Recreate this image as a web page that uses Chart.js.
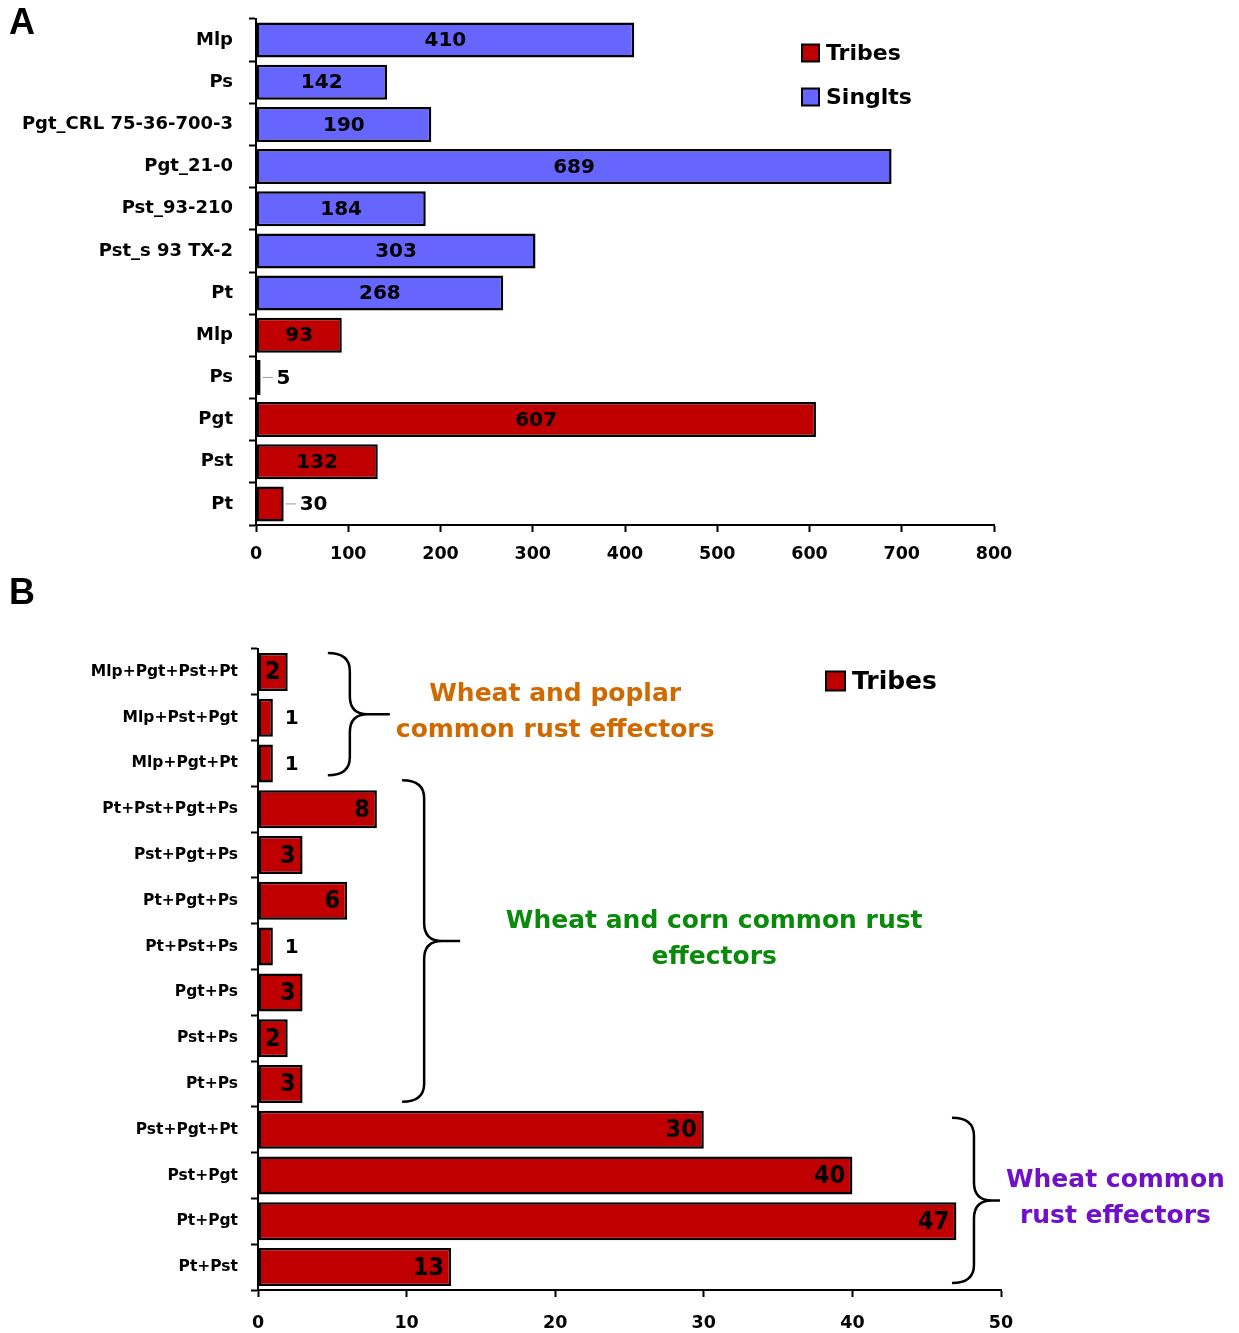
<!DOCTYPE html>
<html>
<head>
<meta charset="utf-8">
<script src="https://cdn.jsdelivr.net/npm/chart.js@4.4.1/dist/chart.umd.min.js"></script>
<style>
body { margin: 0; background: #fff; }
#wrap { position: relative; width: 1239px; height: 1333px; }
canvas { position: absolute; left: 0; }
#chartA { top: 0; }
#chartB { top: 580px; }
.panel { position: absolute; left: 9px; font: bold 36px 'Liberation Sans', Arial, sans-serif; color: #000; }
</style>
</head>
<body>
<div id="wrap">
  <canvas id="chartA" width="1239" height="580"></canvas>
  <canvas id="chartB" width="1239" height="753"></canvas>
  <div class="panel" style="top:1px">A</div>
  <div class="panel" style="top:571px">B</div>
</div>
<script>
// A: singlets / tribes
const labelsA = ['Mlp', 'Ps', 'Pgt_CRL 75-36-700-3', 'Pgt_21-0', 'Pst_93-210', 'Pst_s 93 TX-2', 'Pt',
                 'Mlp', 'Ps', 'Pgt', 'Pst', 'Pt'];
const singletsA = [410, 142, 190, 689, 184, 303, 268, null, null, null, null, null];
const tribesA = [null, null, null, null, null, null, null, 93, 5, 607, 132, 30];
const ticksA = [0, 100, 200, 300, 400, 500, 600, 700, 800];

// B: shared tribes
const labelsB = ['Mlp+Pgt+Pst+Pt', 'Mlp+Pst+Pgt', 'Mlp+Pgt+Pt', 'Pt+Pst+Pgt+Ps', 'Pst+Pgt+Ps', 'Pt+Pgt+Ps',
                 'Pt+Pst+Ps', 'Pgt+Ps', 'Pst+Ps', 'Pt+Ps', 'Pst+Pgt+Pt', 'Pst+Pgt', 'Pt+Pgt', 'Pt+Pst'];
const tribesB = [2, 1, 1, 8, 3, 6, 1, 3, 2, 3, 30, 40, 47, 13];
const ticksB = [0, 10, 20, 30, 40, 50];

const groupRangesB = [[0, 2], [3, 9], [10, 13]];
const groupNamesB = [['Wheat and poplar', 'common rust effectors'],
                     ['Wheat and corn common rust', 'effectors'],
                     ['Wheat common', 'rust effectors']];

const RED = '#C00000';
const BLUE = '#6666FF';
const FONT = "'DejaVu Sans', Verdana, sans-serif";
const NARROW = "'Liberation Sans Narrow', 'DejaVu Sans Condensed', 'Arial Narrow', sans-serif";

// 값 라벨
const valueLabels = {
    id: 'valueLabels',
    afterDatasetsDraw(chart, args, opts) {
        const ctx = chart.ctx;
        chart.data.datasets.forEach((ds, di) => {
            const meta = chart.getDatasetMeta(di);
            meta.data.forEach((bar, i) => {
                const v = ds.data[i];
                if (v == null) return;
                const w = bar.x - bar.base;
                ctx.save();
                ctx.textBaseline = 'middle';
                ctx.fillStyle = '#000';
                if (w < opts.minInside) {
                    if (opts.leader) {
                        ctx.strokeStyle = '#999';
                        ctx.lineWidth = 1;
                        ctx.beginPath();
                        ctx.moveTo(bar.x + 2, bar.y);
                        ctx.lineTo(bar.x + 12, bar.y);
                        ctx.stroke();
                    }
                    ctx.font = opts.outsideFont;
                    ctx.textAlign = 'left';
                    ctx.fillText(v, bar.x + opts.outsideGap, bar.y + 1);
                } else if (opts.align === 'center') {
                    ctx.font = opts.font;
                    ctx.textAlign = 'center';
                    ctx.fillText(v, (bar.x + bar.base) / 2, bar.y + 1);
                } else {
                    ctx.font = opts.font;
                    ctx.textAlign = 'right';
                    ctx.fillText(v, bar.x - 7, bar.y + 1);
                }
                ctx.restore();
            });
        });
    }
};

// 범례
const boxLegend = {
    id: 'boxLegend',
    afterDraw(chart, args, opts) {
        const ctx = chart.ctx;
        ctx.save();
        chart.data.datasets.forEach((ds, i) => {
            const y = opts.y + i * opts.gap;
            ctx.fillStyle = ds.backgroundColor;
            ctx.fillRect(opts.x, y - opts.box / 2, opts.box, opts.box);
            ctx.strokeStyle = '#000';
            ctx.lineWidth = 2;
            ctx.strokeRect(opts.x, y - opts.box / 2, opts.box, opts.box);
            ctx.fillStyle = '#000';
            ctx.font = opts.font;
            ctx.textBaseline = 'middle';
            ctx.textAlign = 'left';
            ctx.fillText(ds.label, opts.x + opts.box + 7, y + 1);
        });
        ctx.restore();
    }
};

// 중괄호 + 그룹 설명
const braces = {
    id: 'braces',
    afterDraw(chart, args, opts) {
        const ctx = chart.ctx;
        const xs = chart.scales.x, ys = chart.scales.y;
        const rowH = ys.getPixelForValue(1) - ys.getPixelForValue(0);
        ctx.save();
        opts.groups.forEach((g, gi) => {
            const [from, to] = groupRangesB[gi];
            const y1 = ys.getPixelForValue(from) - rowH / 2 + g.inset[0];
            const y2 = ys.getPixelForValue(to) + rowH / 2 - g.inset[1];
            const ym = (y1 + y2) / 2;
            const x = xs.getPixelForValue(g.at);
            const w = 22, r = 18;
            ctx.strokeStyle = '#000';
            ctx.lineWidth = 2.5;
            ctx.beginPath();
            ctx.moveTo(x, y1);
            ctx.quadraticCurveTo(x + w, y1, x + w, y1 + r);
            ctx.lineTo(x + w, ym - r);
            ctx.quadraticCurveTo(x + w, ym, x + w + r, ym);
            ctx.lineTo(x + g.depth, ym);
            ctx.moveTo(x + w + r, ym);
            ctx.quadraticCurveTo(x + w, ym, x + w, ym + r);
            ctx.lineTo(x + w, y2 - r);
            ctx.quadraticCurveTo(x + w, y2, x, y2);
            ctx.stroke();

            ctx.fillStyle = g.color;
            ctx.font = opts.font;
            ctx.textAlign = 'center';
            ctx.textBaseline = 'middle';
            const tx = xs.getPixelForValue(g.textAt);
            const lines = groupNamesB[gi];
            lines.forEach((t, li) => {
                ctx.fillText(t, tx, ym - 2 + (li - (lines.length - 1) / 2) * 36);
            });
        });
        ctx.restore();
    }
};

// 축 크기 고정 (레이아웃 자동 여백 제거)
function fixBox(width, height) {
    return function (scale) {
        if (width != null) scale.width = width;
        if (height != null) scale.height = height;
        scale.paddingTop = 0;
        scale.paddingBottom = 0;
    };
}

// A 차트
const chartA = new Chart(document.getElementById('chartA').getContext('2d'), {
    type: 'bar',
    data: {
        labels: labelsA,
        datasets: [{
            label: 'Tribes',
            data: tribesA,
            backgroundColor: RED,
            borderColor: '#000',
            borderWidth: 2.5,
            borderSkipped: false,
            barPercentage: 0.83,
            categoryPercentage: 1
        }, {
            label: 'Singlts',
            data: singletsA,
            backgroundColor: BLUE,
            borderColor: '#000',
            borderWidth: 2.5,
            borderSkipped: false,
            barPercentage: 0.83,
            categoryPercentage: 1
        }]
    },
    options: {
        indexAxis: 'y',
        responsive: false,
        animation: false,
        layout: {
            padding: { top: 19, right: 245, left: 0, bottom: 0 }
        },
        scales: {
            x: {
                stacked: true,
                min: 0,
                max: 800,
                afterBuildTicks: (scale) => { scale.ticks = ticksA.map(v => ({ value: v })); },
                afterFit: fixBox(null, 55),
                grid: { drawOnChartArea: false, drawTicks: true, tickLength: 7, tickColor: '#000', tickWidth: 2 },
                border: { color: '#000', width: 2 },
                ticks: { color: '#000', font: { family: FONT, size: 17.5, weight: 'bold' }, padding: 12, maxRotation: 0 }
            },
            y: {
                stacked: true,
                afterFit: fixBox(256, null),
                grid: { drawOnChartArea: false, drawTicks: true, tickLength: 7, tickColor: '#000', tickWidth: 2, offset: true },
                border: { color: '#000', width: 2 },
                ticks: { color: '#000', font: { family: FONT, size: 18, weight: 'bold' }, padding: 16, autoSkip: false }
            }
        },
        plugins: {
            legend: { display: false },
            tooltip: { enabled: false },
            valueLabels: {
                minInside: 40,
                align: 'center',
                leader: true,
                outsideGap: 16,
                font: 'bold 20px ' + FONT,
                outsideFont: 'bold 20px ' + FONT
            },
            boxLegend: { x: 802, y: 53, gap: 44, box: 17, font: 'bold 22px ' + FONT }
        }
    },
    plugins: [valueLabels, boxLegend]
});

// B 차트
const chartB = new Chart(document.getElementById('chartB').getContext('2d'), {
    type: 'bar',
    data: {
        labels: labelsB,
        datasets: [{
            label: 'Tribes',
            data: tribesB,
            backgroundColor: RED,
            borderColor: '#000',
            borderWidth: 2.5,
            borderSkipped: false,
            barPercentage: 0.83,
            categoryPercentage: 1
        }]
    },
    options: {
        indexAxis: 'y',
        responsive: false,
        animation: false,
        layout: {
            padding: { top: 69, right: 238, left: 0, bottom: 0 }
        },
        scales: {
            x: {
                min: 0,
                max: 50,
                afterBuildTicks: (scale) => { scale.ticks = ticksB.map(v => ({ value: v })); },
                afterFit: fixBox(null, 43),
                grid: { drawOnChartArea: false, drawTicks: true, tickLength: 7, tickColor: '#000', tickWidth: 2 },
                border: { color: '#000', width: 2 },
                ticks: { color: '#000', font: { family: FONT, size: 17.5, weight: 'bold' }, padding: 16, maxRotation: 0 }
            },
            y: {
                afterFit: fixBox(258, null),
                grid: { drawOnChartArea: false, drawTicks: true, tickLength: 7, tickColor: '#000', tickWidth: 2, offset: true },
                border: { color: '#000', width: 2 },
                ticks: { color: '#000', font: { family: FONT, size: 15.5, weight: 'bold' }, padding: 13, autoSkip: false }
            }
        },
        plugins: {
            legend: { display: false },
            tooltip: { enabled: false },
            valueLabels: {
                minInside: 20,
                align: 'end',
                leader: false,
                outsideGap: 12,
                font: 'bold 25px ' + NARROW,
                outsideFont: 'bold 20px ' + FONT
            },
            boxLegend: { x: 826, y: 101, gap: 44, box: 19, font: 'bold 25px ' + FONT },
            braces: {
                font: 'bold 25px ' + FONT,
                groups: [
                    { at: 4.7, depth: 62, textAt: 20, color: '#D06A00', inset: [4, 11] },
                    { at: 9.7, depth: 58, textAt: 30.7, color: '#0A8A0A', inset: [-6, 5] },
                    { at: 46.7, depth: 48, textAt: 57.7, color: '#7010C8', inset: [11, 7] }
                ]
            }
        }
    },
    plugins: [valueLabels, boxLegend, braces]
});
</script>
</body>
</html>
